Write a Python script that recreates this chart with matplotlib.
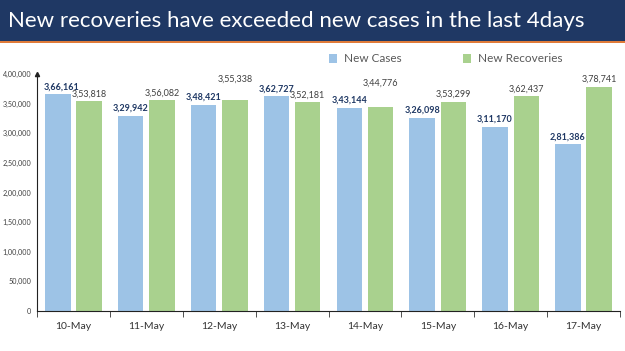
import numpy as np
import matplotlib.pyplot as plt
from matplotlib.patches import Rectangle
from matplotlib.ticker import FuncFormatter

dates = ['10-May', '11-May', '12-May', '13-May', '14-May', '15-May', '16-May', '17-May']
new_cases = [366161, 329942, 348421, 362727, 343144, 326098, 311170, 281386]
new_recoveries = [353818, 356082, 355338, 352181, 344776, 353299, 362437, 378741]
yticks = [0, 50000, 100000, 150000, 200000, 250000, 300000, 350000, 400000]


def indian(v, pos=None):
    v = int(round(v))
    s = str(v)
    if len(s) <= 3:
        return s
    last3 = s[-3:]
    rest = s[:-3]
    groups = []
    while len(rest) > 2:
        groups.insert(0, rest[-2:])
        rest = rest[:-2]
    if rest:
        groups.insert(0, rest)
    return ','.join(groups) + ',' + last3


plt.rcParams['font.family'] = ['Lato', 'DejaVu Sans']

fig = plt.figure(figsize=(6.25, 3.51), dpi=100)

# title banner
fig.patches.append(Rectangle((0, 1 - 41 / 351), 1, 41 / 351, transform=fig.transFigure,
                             facecolor='#1F3864', edgecolor='none', zorder=0))
fig.patches.append(Rectangle((0, 1 - 43 / 351), 1, 2 / 351, transform=fig.transFigure,
                             facecolor='#E07B39', edgecolor='none', zorder=0))
fig.text(0.013, 1 - 21 / 351, 'New recoveries have exceeded new cases in the last 4days',
         color='white', fontsize=16, va='center', ha='left')

ax = fig.add_axes([37 / 625, 1 - 311 / 351, 583 / 625, 237 / 351])

x = np.arange(len(dates))
w = 0.35
off = 0.215
b1 = ax.bar(x - off, new_cases, w, color='#9DC3E6', label='New Cases')
b2 = ax.bar(x + off, new_recoveries, w, color='#A9D18E', label='New Recoveries')

# label nudges (x in category units, y in points) to mimic the original placement
case_nudge = {0: (0.05, 2), 2: (0.0, 2)}
rec_nudge = {2: (0.0, 12), 4: (0.0, 14)}
for i, v in enumerate(new_cases):
    dx, dy = case_nudge.get(i, (0, 2))
    ax.annotate(indian(v), (x[i] - off + dx, v), xytext=(0, dy), textcoords='offset points',
                ha='center', va='bottom', fontsize=6.5, fontweight='bold', color='#1F3864')
for i, v in enumerate(new_recoveries):
    dx, dy = rec_nudge.get(i, (0, 2))
    ax.annotate(indian(v), (x[i] + off + dx, v), xytext=(0, dy), textcoords='offset points',
                ha='center', va='bottom', fontsize=6.5, color='#404040')

ax.set_xlim(-0.5, len(dates) - 0.5)
ax.set_ylim(0, 400000)
ax.set_yticks(yticks)
ax.yaxis.set_major_formatter(FuncFormatter(indian))
ax.set_xticks(x)
ax.set_xticklabels(dates)
ax.set_xticks(np.arange(len(dates) + 1) - 0.5, minor=True)
ax.tick_params(axis='x', which='major', length=0, pad=8, labelsize=7.5, labelcolor='#333333')
ax.tick_params(axis='x', which='minor', length=4, color='#333333', direction='out')
ax.tick_params(axis='y', length=0, labelsize=5.2, labelcolor='#404040', pad=4)
for s in ('top', 'right'):
    ax.spines[s].set_visible(False)
ax.spines['left'].set_color('#222222')
ax.spines['bottom'].set_color('#222222')
ax.plot(0, 1, '^', color='#222222', markersize=3, transform=ax.transAxes, clip_on=False)

fig.legend(handles=[b1, b2], loc='center left', bbox_to_anchor=(318 / 625, 1 - 59 / 351),
           ncol=2, frameon=False, fontsize=8.5, handlelength=0.7, handleheight=0.7,
           columnspacing=5.2, handletextpad=0.6, labelcolor='#595959')

fig.savefig('out.png', dpi=100)
